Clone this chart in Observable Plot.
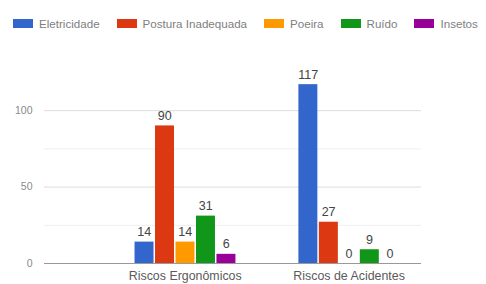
<!DOCTYPE html>
<html>
<head>
<meta charset="utf-8">
<script src="https://cdn.jsdelivr.net/npm/d3@7"></script>
<script src="https://cdn.jsdelivr.net/npm/@observablehq/plot@0.6"></script>
<style>
  body { margin: 0; background: #fff; width: 486px; height: 284px; overflow: hidden; font-family: "Liberation Sans", Arial, sans-serif; }
  #legend { height: 40px; box-sizing: border-box; padding: 6px 0 0 13px; overflow: hidden; white-space: nowrap; width: 486px; }
  #legend > div { font: 11.6px "Liberation Sans", Arial, sans-serif !important; color: #808080 !important; margin: 0 !important; flex-wrap: nowrap !important; min-height: 0 !important; height: 34px !important; display: flex !important; align-items: center !important; }
  #legend span { margin-right: 17px !important; display: inline-flex !important; align-items: center !important; white-space: nowrap; }
  #legend span:last-child { margin-right: 0 !important; }
  #legend span svg { margin-right: 6px !important; border-radius: 2px; }
  #chart svg { display: block; }
</style>
</head>
<body>
<div id="legend"></div>
<div id="chart"></div>
<script>
const categories = ["Riscos Ergonômicos", "Riscos de Acidentes"];
const series = ["Eletricidade", "Postura Inadequada", "Poeira", "Ruído", "Insetos"];
const colors = ["#3366cc", "#dc3912", "#ff9900", "#109618", "#990099"];
const ergonomicos = [14, 90, 14, 31, 6];
const acidentes = [117, 27, 0, 9, 0];
const yMajorTicks = [0, 50, 100];
const yMinorTicks = [25, 75];

const valuesByCategory = [ergonomicos, acidentes];
const step = 0.125;
const rows = [];
categories.forEach((cat, ci) => {
  series.forEach((s, si) => {
    rows.push({cat, series: s, value: valuesByCategory[ci][si], x: ci + (si - (series.length - 1) / 2) * step});
  });
});

const font = "Liberation Sans, Arial, sans-serif";

const legend = Plot.legend({
  color: {domain: series, range: colors},
  legend: "swatches",
  swatchWidth: 20,
  swatchHeight: 9,
  className: "lg"
});
document.getElementById("legend").appendChild(legend);

const chart = Plot.plot({
  width: 486,
  height: 244,
  marginLeft: 44,
  marginRight: 65,
  marginTop: 9,
  marginBottom: 21,
  style: {fontFamily: font, background: "#fff"},
  x: {type: "linear", domain: [-0.859, 1.442], axis: null},
  y: {domain: [0, 140], axis: null},
  color: {domain: series, range: colors},
  marks: [
    Plot.ruleY(yMinorTicks, {stroke: "#eeeeee"}),
    Plot.ruleY(yMajorTicks.filter(t => t !== 0), {stroke: "#dcdcdc"}),
    Plot.rectY(rows, {
      x1: d => d.x - step / 2,
      x2: d => d.x + step / 2,
      y: "value",
      fill: "series",
      insetLeft: 1,
      insetRight: 0.5
    }),
    Plot.ruleY([0], {stroke: "#999"}),
    Plot.text(rows, {
      x: "x",
      y: "value",
      text: d => String(d.value),
      dy: -10,
      fontSize: 12.5,
      fill: "#444"
    }),
    Plot.axisY(yMajorTicks, {tickSize: 0, tickPadding: 12, fontSize: 10.5, color: "#8a8a8a", label: null}),
    Plot.axisX([0, 1], {tickFormat: i => categories[i], tickSize: 0, tickPadding: 8, fontSize: 12.4, color: "#5a5a5a", label: null})
  ]
});
document.getElementById("chart").appendChild(chart);
</script>
</body>
</html>
